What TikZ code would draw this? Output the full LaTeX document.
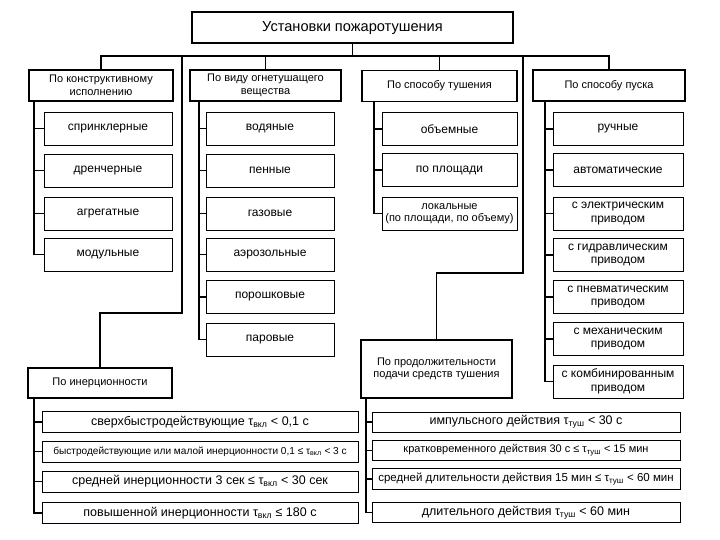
\documentclass[tikz,border=0pt]{standalone}
\usepackage{fontspec}
\setmainfont{Liberation Sans}
\usetikzlibrary{positioning,calc}

\begin{document}
\begin{tikzpicture}[x=1pt,y=-1pt,
  every node/.style={font=\fontsize{12}{13.5}\selectfont},
  topbox/.style={draw,line width=1.8pt,minimum width=321pt,minimum height=31pt,
                 inner sep=0pt,font=\fontsize{14.6}{16}\selectfont},
  hdr/.style={draw,line width=1.6pt,minimum height=31pt,inner sep=1pt,align=center,
              font=\fontsize{11}{12.5}\selectfont},
  itm/.style={draw,line width=0.9pt,minimum height=33pt,inner sep=1pt,align=center},
  wide/.style={draw,line width=0.9pt,minimum height=21pt,inner sep=1pt,align=center,
               font=\fontsize{12.5}{14}\selectfont},
  ln/.style={line width=1.8pt},
]
\useasboundingbox (0,0) rectangle (720,540);

%% ── Title ────────────────────────────────────────────────────────────────
\node[topbox] (title) at (352.5,27.5) {Установки пожаротушения};

%% ── Headers ──────────────────────────────────────────────────────────────
\node[hdr,minimum width=144pt] (konstr) at (101,85.5) {По конструктивному\\исполнению};
\node[hdr,minimum width=151pt] (vid)    at (265.5,85.5) {По виду огнетушащего\\вещества};
\node[hdr,minimum width=155pt] (sposob) at (439.5,86) {По способу тушения};
\node[hdr,minimum width=152pt] (pusk)   at (609,85.5) {По способу пуска};
\node[hdr,minimum width=144pt,minimum height=30pt] (inert) at (100,383) {По инерционности};
\node[hdr,minimum width=151pt,minimum height=58pt] (prod) at (436.5,369)
  {По продолжительности\\подачи средств тушения};

%% ── By design ────────────────────────────────────────────────────────────
\node[itm,minimum width=128pt] (k1) at (108,128.5) {спринклерные};
\node[itm,minimum width=128pt] (k2) at (108,170.5) {дренчерные};
\node[itm,minimum width=128pt] (k3) at (108,213.5) {агрегатные};
\node[itm,minimum width=128pt] (k4) at (108,254.5) {модульные};

%% ── By agent ─────────────────────────────────────────────────────────────
\node[itm,minimum width=128pt] (v1) at (270,128.5) {водяные};
\node[itm,minimum width=128pt] (v2) at (270,170.5) {пенные};
\node[itm,minimum width=128pt] (v3) at (270,213.5) {газовые};
\node[itm,minimum width=128pt] (v4) at (270,254.5) {аэрозольные};
\node[itm,minimum width=128pt] (v5) at (270,297) {порошковые};
\node[itm,minimum width=128pt] (v6) at (270,339.5) {паровые};

%% ── By method ────────────────────────────────────────────────────────────
\node[itm,minimum width=135pt] (s1) at (449.5,129) {объемные};
\node[itm,minimum width=135pt] (s2) at (449.5,170) {по площади};
\node[itm,minimum width=135pt,font=\fontsize{11}{12.5}\selectfont] (s3) at (449.5,213.5)
  {локальные\\(по площади, по объему)};

%% ── By start-up ──────────────────────────────────────────────────────────
\node[itm,minimum width=130pt] (p1) at (618,129) {ручные};
\node[itm,minimum width=130pt] (p2) at (618,170) {автоматические};
\node[itm,minimum width=130pt] (p3) at (618,213.5) {с электрическим\\приводом};
\node[itm,minimum width=130pt] (p4) at (618,255) {с гидравлическим\\приводом};
\node[itm,minimum width=130pt] (p5) at (618,297) {с пневматическим\\приводом};
\node[itm,minimum width=130pt] (p6) at (618,339) {с механическим\\приводом};
\node[itm,minimum width=130pt] (p7) at (618,381.5) {с комбинированным\\приводом};

%% ── By inertia ───────────────────────────────────────────────────────────
\node[wide,minimum width=316pt] (i1) at (200,422) {сверхбыстродействующие τ\textsubscript{вкл} < 0,1 с};
\node[wide,minimum width=316pt,font=\fontsize{10.1}{11}\selectfont] (i2) at (200,451.5)
  {быстродействующие или малой инерционности 0,1 ≤ τ\textsubscript{вкл} < 3 с};
\node[wide,minimum width=316pt] (i3) at (200,481.5) {средней инерционности 3 сек ≤ τ\textsubscript{вкл} < 30 сек};
\node[wide,minimum width=316pt] (i4) at (200,513) {повышенной инерционности τ\textsubscript{вкл} ≤ 180 с};

%% ── By duration ──────────────────────────────────────────────────────────
\node[wide,minimum width=308pt,minimum height=20pt] (d1) at (526,422) {импульсного действия τ\textsubscript{туш} < 30 с};
\node[wide,minimum width=308pt,minimum height=20pt,font=\fontsize{11}{12.5}\selectfont] (d2) at (526,450.5)
  {кратковременного действия 30 с ≤ τ\textsubscript{туш} < 15 мин};
\node[wide,minimum width=308pt,minimum height=21pt,font=\fontsize{11.5}{13}\selectfont] (d3) at (526,479)
  {средней длительности действия 15 мин ≤ τ\textsubscript{туш} < 60 мин};
\node[wide,minimum width=308pt,minimum height=20pt] (d4) at (526,512.5) {длительного действия τ\textsubscript{туш} < 60 мин};

%% ── Connections ──────────────────────────────────────────────────────────
\draw[ln] (title.south) -- ++(0,12) coordinate (bus);
\draw[ln] (konstr.north) |- (bus) -| (pusk.north);
\draw[ln] (vid.north) -- (vid.north |- bus);
\draw[ln] (sposob.north) -- (sposob.north |- bus);
\coordinate (ib) at (182,313);
\coordinate (db) at (523,273);
\draw[ln] (inert.north) |- (ib) -- (ib |- bus);
\draw[ln] (prod.north) |- (db) -- (db |- bus);

%% item spines
\foreach \n in {1,...,4} \draw[ln] ([xshift=6pt]konstr.south west) |- (k\n.west);
\foreach \n in {1,...,6} \draw[ln] ([xshift=10pt]vid.south west) |- (v\n.west);
\foreach \n in {1,...,3} \draw[ln] ([xshift=13pt]sposob.south west) |- (s\n.west);
\foreach \n in {1,...,7} \draw[ln] ([xshift=13pt]pusk.south west) |- (p\n.west);
\foreach \n in {1,...,4} \draw[ln] ([xshift=7pt]inert.south west) |- (i\n.west);
\foreach \n in {1,...,4} \draw[ln] ([xshift=6pt]prod.south west) |- (d\n.west);

\end{tikzpicture}
\end{document}
